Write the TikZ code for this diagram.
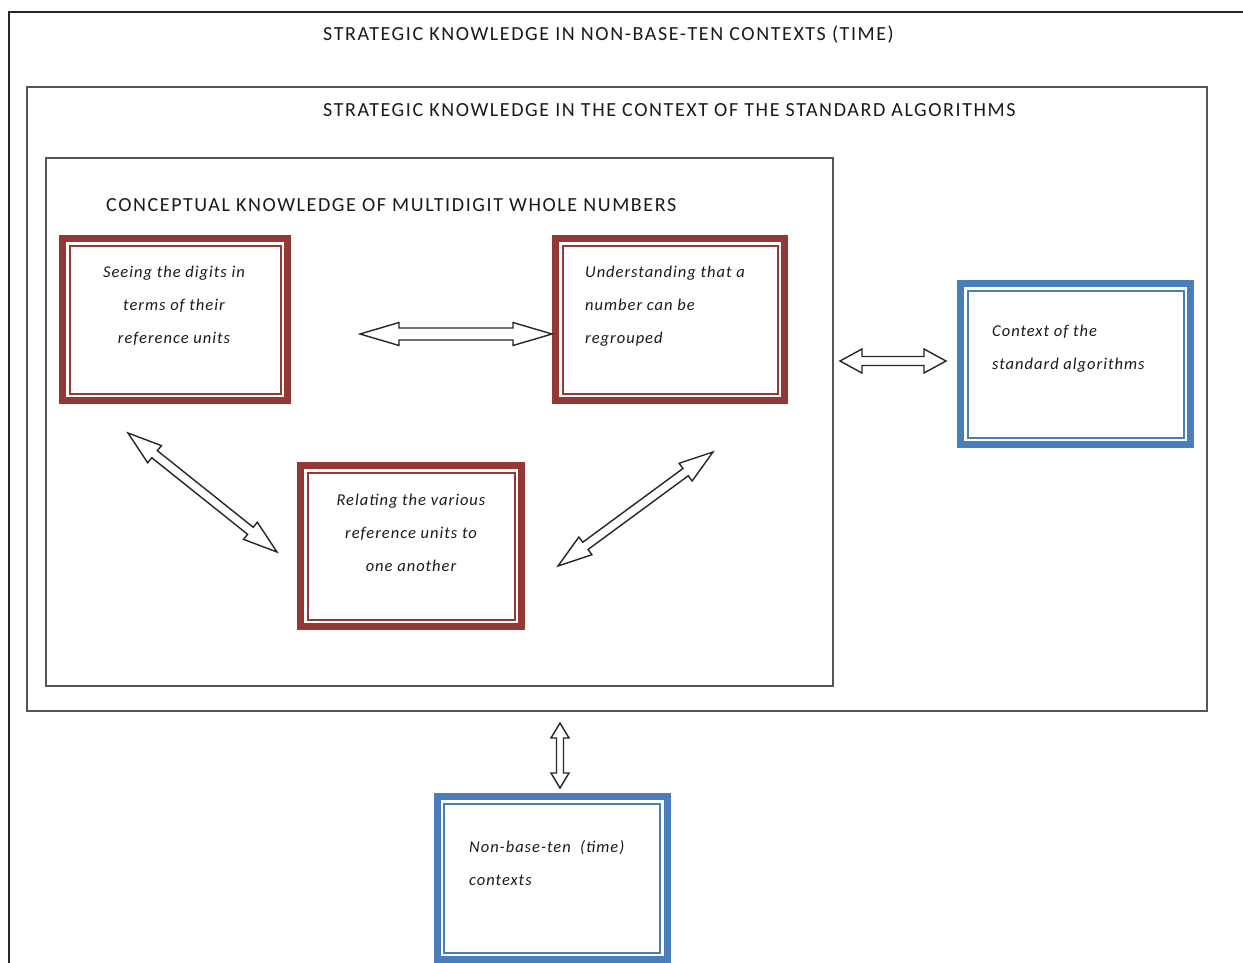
\documentclass[tikz,border=0pt]{standalone}
\usepackage{fontspec}
\setmainfont{Carlito}
\newfontfamily\titlefont[LetterSpace=8]{Carlito}
\newfontfamily\boxfont[LetterSpace=6]{Carlito}
\usetikzlibrary{calc}
\definecolor{boxred}{HTML}{953735}
\definecolor{boxblue}{HTML}{4A7EBB}
\definecolor{framegray}{HTML}{555555}
\definecolor{txt}{HTML}{1A1A1A}
\tikzset{
  frame/.style={draw=framegray, line width=2pt},
  outerframe/.style={draw=black!85, line width=2pt},
  title/.style={font=\titlefont\fontsize{20}{22}\selectfont, text=txt, anchor=base west, inner sep=0},
  boxtext/.style={font=\boxfont\itshape\fontsize{16.5}{33}\selectfont, text=txt, inner sep=0, anchor=north},
  redbox/.style={draw=boxred, line width=7pt, outer sep=0, inner sep=0, fill=white},
  bluebox/.style={draw=boxblue, line width=7pt, outer sep=0, inner sep=0, fill=white},
  hollowline/.style={draw=black!85, fill=white, line width=1.4pt, line join=miter},
}
\newcommand{\innerframe}[2]{\draw[#1, line width=2pt] ([shift={(7,7)}]#2.north west) rectangle ([shift={(-7,-7)}]#2.south east);}
% #1 start, #2 end, #3 head length, #4 half head width, #5 half shaft width
\newcommand{\blockarrow}[5]{\draw[hollowline] (#1)
 -- ($(#1)!#3!(#2)!#4!90:(#2)$) -- ($(#1)!#3!(#2)!#5!90:(#2)$)
 -- ($(#2)!#3!(#1)!#5!-90:(#1)$) -- ($(#2)!#3!(#1)!#4!-90:(#1)$)
 -- (#2)
 -- ($(#2)!#3!(#1)!#4!90:(#1)$) -- ($(#2)!#3!(#1)!#5!90:(#1)$)
 -- ($(#1)!#3!(#2)!#5!-90:(#2)$) -- ($(#1)!#3!(#2)!#4!-90:(#2)$)
 -- cycle;}
\begin{document}
\begin{tikzpicture}[x=1pt,y=-1pt]
\useasboundingbox (0,0) rectangle (1243,962);
\fill[white] (0,0) rectangle (1243,962);
% outer frame (extends beyond the page)
\coordinate (oa) at (9,975);
\coordinate (ob) at (9,12);
\coordinate (oc) at (1260,12);
\draw[outerframe] (oa) -- (ob) -- (oc);
\node[title] (t1) at (323,40) {STRATEGIC KNOWLEDGE IN NON-BASE-TEN CONTEXTS (TIME)};
% standard algorithms frame
\node[frame, minimum width=1180, minimum height=624, anchor=north west, inner sep=0, outer sep=0] (std) at (27,87) {};
\node[title] (t2) at (323,116) {STRATEGIC KNOWLEDGE IN THE CONTEXT OF THE STANDARD ALGORITHMS};
% conceptual frame
\node[frame, minimum width=787, minimum height=528, anchor=north west, inner sep=0, outer sep=0] (con) at (46,158) {};
\node[title] (t3) at (106,211) {CONCEPTUAL KNOWLEDGE OF MULTIDIGIT WHOLE NUMBERS};
% red boxes
\node[redbox, minimum width=225, minimum height=162] (r1) at (175,319.5) {};
\innerframe{boxred}{r1}
\node[redbox, minimum width=229, minimum height=162] (r2) at (670,319.5) {};
\innerframe{boxred}{r2}
\node[redbox, minimum width=221, minimum height=161] (r3) at (411,546) {};
\innerframe{boxred}{r3}
% blue boxes
\node[bluebox, minimum width=230, minimum height=161] (b1) at (1075.5,364) {};
\innerframe{boxblue}{b1}
\node[bluebox, minimum width=230, minimum height=163] (b2) at (552,878) {};
\innerframe{boxblue}{b2}
% texts
\node[boxtext, align=center] (l1) at (174,266) {Seeing the digits in\\terms of their\\reference units};
\node[boxtext, align=left, anchor=north west] (l2) at (585,266) {Understanding that a\\number can be\\regrouped};
\node[boxtext, align=center] (l3) at (411,494) {Relating the various\\reference units to\\one another};
\node[boxtext, align=left, anchor=north west] (l4) at (992,325) {Context of the\\standard algorithms};
\node[boxtext, align=left, anchor=north west] (l5) at (469,840) {Non-base-ten\ \ (time)\\contexts};
% arrows
\coordinate (h1) at (360,334);
\coordinate (h2) at (552,334);
\blockarrow{h1}{h2}{39pt}{11.5pt}{6pt}
\coordinate (s1) at (840,361);
\coordinate (s2) at (946,361);
\blockarrow{s1}{s2}{22pt}{12pt}{4.5pt}
\coordinate (v1) at (560,723);
\coordinate (v2) at (560,788);
\blockarrow{v1}{v2}{15pt}{9pt}{3.5pt}
\coordinate (d1) at (128,433);
\coordinate (d2) at (277,552);
\blockarrow{d1}{d2}{34pt}{11pt}{4.5pt}
\coordinate (e1) at (713,452);
\coordinate (e2) at (558,566);
\blockarrow{e1}{e2}{34pt}{11pt}{4.5pt}
\end{tikzpicture}
\end{document}
